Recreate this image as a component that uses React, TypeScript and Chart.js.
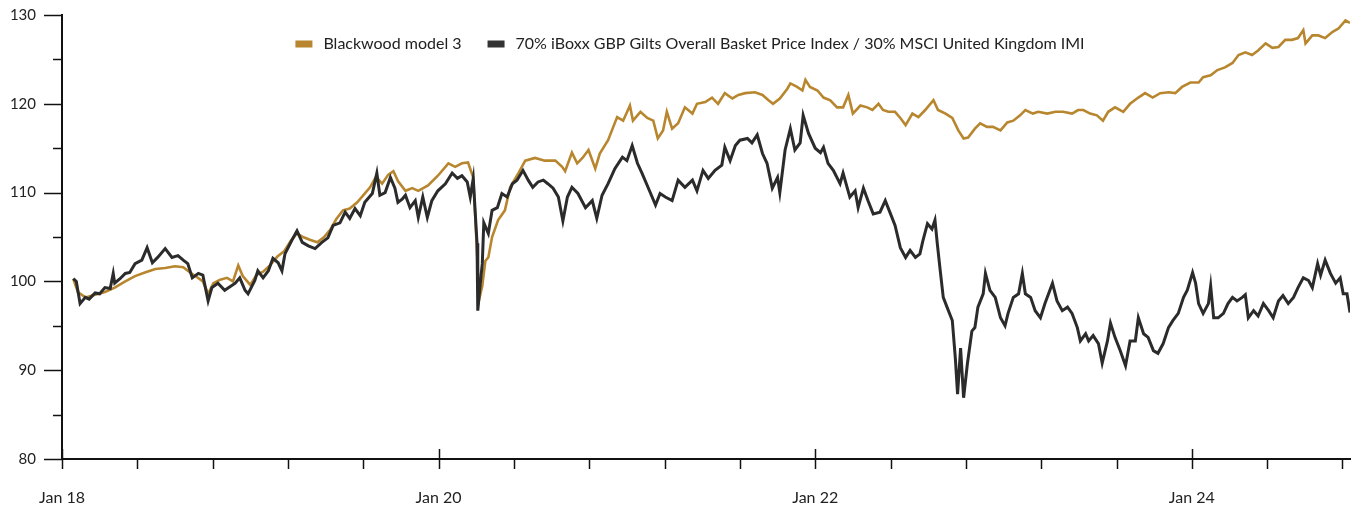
import React, { useEffect, useRef } from 'react';
import { Chart, registerables } from 'chart.js';

Chart.register(...registerables);

// ---- Data ----
const seriesNames = [
  'Blackwood model 3',
  '70% iBoxx GBP Gilts Overall Basket Price Index / 30% MSCI United Kingdom IMI',
];

// x axis: trading-day index from Jan 2018
const xTickValues = [0, 100, 200, 300, 400, 500, 600, 700, 800, 900, 1000, 1100, 1200, 1300, 1400, 1500, 1600, 1700];
const xTickLabels: Record<number, string> = { 0: 'Jan 18', 500: 'Jan 20', 1000: 'Jan 22', 1500: 'Jan 24' };
const yTickValues = [80, 85, 90, 95, 100, 105, 110, 115, 120, 125, 130];
const yTickLabels = [80, 90, 100, 110, 120, 130];

const blackwoodDays = [15, 21, 31, 44, 57, 70, 84, 97, 110, 124, 137, 150, 161, 170, 179, 187, 194, 201, 210, 219, 227, 234, 240, 250, 258, 267, 276, 286, 295, 304, 312, 320, 329, 339, 348, 356, 364, 373, 382, 392, 401, 409, 417, 425, 433, 440, 446, 456, 465, 473, 486, 499, 513, 522, 531, 539, 546, 550, 554, 558, 562, 566, 571, 579, 588, 595, 606, 615, 628, 641, 655, 664, 668, 677, 684, 691, 699, 708, 714, 725, 737, 745, 754, 758, 768, 777, 785, 791, 798, 803, 810, 818, 827, 837, 843, 854, 863, 871, 880, 890, 898, 907, 920, 930, 938, 944, 953, 963, 967, 976, 983, 987, 993, 1003, 1011, 1020, 1029, 1037, 1044, 1050, 1060, 1069, 1076, 1084, 1090, 1097, 1106, 1113, 1120, 1129, 1137, 1146, 1157, 1163, 1173, 1182, 1190, 1197, 1203, 1212, 1219, 1228, 1236, 1246, 1255, 1263, 1272, 1279, 1289, 1296, 1308, 1319, 1329, 1341, 1349, 1356, 1365, 1374, 1382, 1389, 1398, 1409, 1418, 1429, 1438, 1448, 1458, 1469, 1478, 1487, 1498, 1509, 1515, 1525, 1534, 1544, 1554, 1562, 1571, 1580, 1588, 1598, 1607, 1615, 1624, 1633, 1641, 1648, 1651, 1660, 1668, 1677, 1687, 1695, 1704, 1710];
const blackwoodValues = [100.3, 98.8, 98.2, 98.5, 98.8, 99.3, 100.0, 100.6, 101.0, 101.4, 101.5, 101.7, 101.6, 101.0, 100.5, 100.0, 98.6, 99.8, 100.2, 100.4, 100.0, 101.8, 100.6, 99.6, 100.7, 101.1, 101.8, 102.8, 103.4, 104.6, 105.4, 105.0, 104.7, 104.4, 105.0, 105.8, 107.0, 108.0, 108.2, 108.9, 109.8, 110.6, 111.8, 111.0, 112.0, 112.4, 111.3, 110.2, 110.5, 110.2, 110.8, 111.9, 113.3, 112.9, 113.3, 113.4, 111.7, 105.0, 98.0, 99.5, 102.3, 102.7, 105.0, 106.9, 108.0, 110.6, 112.2, 113.6, 113.9, 113.6, 113.6, 112.9, 112.4, 114.5, 113.3, 113.9, 114.8, 112.7, 114.4, 115.9, 118.5, 118.1, 119.8, 118.1, 119.1, 118.4, 118.1, 116.1, 117.0, 119.1, 117.2, 117.8, 119.6, 118.9, 120.0, 120.2, 120.7, 120.0, 121.2, 120.6, 121.0, 121.2, 121.3, 121.0, 120.4, 120.0, 120.6, 121.7, 122.3, 121.9, 121.5, 122.7, 121.9, 121.5, 120.7, 120.4, 119.6, 119.6, 121.0, 118.9, 119.8, 119.6, 119.3, 120.0, 119.3, 119.1, 119.1, 118.4, 117.6, 118.9, 118.5, 119.3, 120.4, 119.3, 118.9, 118.4, 117.0, 116.1, 116.2, 117.2, 117.8, 117.4, 117.4, 117.0, 117.9, 118.1, 118.7, 119.3, 118.9, 119.1, 118.9, 119.1, 119.1, 118.9, 119.3, 119.3, 118.9, 118.7, 118.1, 119.1, 119.6, 119.1, 120.0, 120.7, 121.2, 120.7, 121.2, 121.3, 121.2, 121.9, 122.4, 122.4, 123.0, 123.2, 123.8, 124.1, 124.6, 125.5, 125.8, 125.5, 126.0, 126.8, 126.3, 126.4, 127.2, 127.2, 127.4, 128.3, 126.8, 127.7, 127.7, 127.4, 128.1, 128.5, 129.4, 129.1];

const benchmarkDays = [15, 19, 24, 31, 36, 44, 50, 57, 64, 68, 70, 77, 84, 90, 97, 106, 113, 120, 127, 137, 146, 154, 161, 167, 173, 181, 187, 194, 199, 207, 216, 230, 236, 243, 247, 256, 260, 267, 274, 280, 287, 292, 296, 305, 312, 319, 327, 336, 345, 353, 360, 369, 376, 382, 389, 396, 402, 412, 418, 422, 429, 436, 442, 446, 452, 456, 462, 469, 473, 479, 485, 491, 499, 509, 518, 525, 531, 538, 542, 546, 551, 552, 555, 558, 560, 566, 571, 578, 584, 591, 598, 604, 612, 619, 625, 632, 639, 645, 652, 659, 665, 671, 677, 685, 695, 704, 710, 717, 725, 734, 744, 750, 757, 764, 770, 778, 788, 794, 801, 810, 818, 827, 837, 843, 851, 858, 867, 876, 880, 887, 894, 900, 910, 916, 923, 930, 936, 943, 950, 953, 960, 967, 973, 980, 984, 991, 1000, 1007, 1011, 1017, 1024, 1033, 1037, 1046, 1053, 1057, 1064, 1070, 1077, 1086, 1093, 1100, 1106, 1113, 1120, 1126, 1133, 1139, 1143, 1149, 1155, 1159, 1162, 1166, 1170, 1175, 1182, 1186, 1189, 1193, 1197, 1202, 1208, 1212, 1216, 1223, 1226, 1232, 1239, 1246, 1252, 1256, 1263, 1270, 1275, 1279, 1286, 1292, 1299, 1305, 1315, 1321, 1328, 1335, 1341, 1348, 1352, 1359, 1363, 1369, 1376, 1381, 1388, 1392, 1398, 1405, 1412, 1418, 1425, 1429, 1436, 1442, 1449, 1455, 1462, 1469, 1475, 1482, 1489, 1494, 1501, 1505, 1509, 1515, 1522, 1525, 1529, 1535, 1542, 1548, 1554, 1560, 1567, 1571, 1575, 1582, 1588, 1595, 1602, 1608, 1615, 1621, 1628, 1635, 1641, 1648, 1655, 1660, 1667, 1671, 1677, 1684, 1691, 1697, 1701, 1706, 1710];
const benchmarkValues = [100.3, 100.0, 97.5, 98.2, 98.0, 98.7, 98.6, 99.3, 99.2, 100.9, 99.8, 100.3, 100.9, 101.0, 102.0, 102.4, 103.8, 102.1, 102.7, 103.7, 102.7, 102.9, 102.4, 102.0, 100.4, 100.9, 100.7, 97.8, 99.3, 99.8, 99.0, 99.8, 100.4, 99.0, 98.6, 100.1, 101.2, 100.4, 101.2, 102.6, 102.1, 101.2, 103.1, 104.6, 105.7, 104.4, 104.0, 103.7, 104.4, 104.9, 106.3, 106.6, 107.8, 107.1, 108.2, 107.4, 108.9, 109.9, 112.2, 109.7, 110.0, 111.7, 110.5, 108.9, 109.3, 109.7, 108.3, 109.1, 107.2, 109.5, 107.2, 109.1, 110.2, 111.0, 112.2, 111.6, 111.9, 111.2, 109.5, 111.6, 104.3, 96.7, 99.5, 102.0, 106.6, 105.4, 108.0, 108.3, 109.9, 109.5, 111.0, 111.4, 112.5, 111.4, 110.6, 111.2, 111.4, 111.0, 110.5, 109.5, 106.8, 109.5, 110.6, 109.9, 108.3, 109.1, 107.1, 109.7, 111.0, 112.7, 114.0, 113.6, 115.3, 113.3, 112.2, 110.6, 108.6, 109.9, 109.5, 109.1, 111.4, 110.6, 111.4, 110.2, 112.5, 111.6, 112.5, 113.1, 115.1, 113.6, 115.3, 115.9, 116.1, 115.6, 116.5, 114.4, 113.3, 110.5, 111.7, 110.0, 114.8, 117.2, 114.8, 115.6, 118.7, 116.7, 115.0, 114.5, 115.1, 113.3, 112.5, 111.0, 112.2, 109.5, 110.2, 108.3, 110.5, 109.1, 107.6, 107.8, 109.1, 107.6, 106.3, 103.8, 102.7, 103.5, 102.7, 103.1, 104.6, 106.5, 105.9, 106.9, 104.3, 101.2, 98.2, 97.1, 95.6, 91.4, 87.3, 92.5, 86.9, 90.7, 94.4, 94.8, 97.1, 98.6, 100.9, 99.0, 98.2, 95.9, 95.0, 96.4, 98.2, 98.6, 100.9, 98.6, 98.2, 96.7, 95.9, 97.5, 99.8, 97.8, 96.7, 97.1, 96.4, 94.8, 93.3, 94.1, 93.3, 93.9, 93.0, 90.8, 93.3, 95.3, 93.7, 92.2, 90.5, 93.3, 93.3, 95.9, 94.1, 93.7, 92.2, 91.9, 93.0, 94.8, 95.6, 96.4, 98.2, 99.0, 101.0, 99.8, 97.5, 96.4, 97.5, 99.5, 95.9, 95.9, 96.4, 97.5, 98.2, 97.8, 98.2, 98.5, 95.9, 96.7, 96.1, 97.5, 96.7, 95.9, 97.8, 98.4, 97.5, 98.2, 99.3, 100.4, 100.1, 99.3, 102.0, 100.7, 102.4, 100.9, 99.8, 100.4, 98.6, 98.6, 96.5];

const GOLD = '#B8862E';
const DARK = '#2B2B2B';
const FONT = 'Lato';

const axisTicksPlugin = {
  id: 'axisTicks',
  afterDraw(chart: any) {
    const { ctx, chartArea, scales } = chart;
    ctx.save();
    ctx.strokeStyle = '#111';
    ctx.lineWidth = 1.5;
    const xs = scales.x;
    xs.ticks.forEach((t: any) => {
      const px = Math.round(xs.getPixelForValue(t.value)) + 0.5;
      const major = xTickLabels[t.value] !== undefined;
      ctx.beginPath();
      ctx.moveTo(px, chartArea.bottom + 10);
      ctx.lineTo(px, chartArea.bottom - (major ? 10 : 0));
      ctx.stroke();
    });
    const ys = scales.y;
    ys.ticks.forEach((t: any) => {
      const py = Math.round(ys.getPixelForValue(t.value)) + 0.5;
      const len = yTickLabels.includes(t.value) ? 18 : 9;
      ctx.beginPath();
      ctx.moveTo(chartArea.left - len, py);
      ctx.lineTo(chartArea.left, py);
      ctx.stroke();
    });
    ctx.restore();
  },
};

const legendPlugin = {
  id: 'topLegend',
  afterDraw(chart: any) {
    const { ctx } = chart;
    const items = [...chart.data.datasets]
      .sort((a: any, b: any) => a.legendIndex - b.legendIndex)
      .map((d: any) => ({ label: d.label, color: d.legendColor }));
    ctx.save();
    ctx.font = `16px ${FONT}`;
    const markerW = 17;
    const markerH = 7;
    const gapText = 11;
    const gapItem = 26;
    const widths = items.map((it: any) => markerW + gapText + ctx.measureText(it.label).width);
    const total = widths.reduce((a: number, b: number) => a + b, 0) + gapItem * (items.length - 1);
    let x = 690 - total / 2;
    const y = 44;
    items.forEach((it: any, i: number) => {
      ctx.fillStyle = it.color;
      ctx.fillRect(x, y - markerH / 2, markerW, markerH);
      ctx.fillStyle = '#222';
      ctx.textBaseline = 'middle';
      ctx.textAlign = 'left';
      ctx.fillText(it.label, x + markerW + gapText, y);
      x += widths[i] + gapItem;
    });
    ctx.restore();
  },
};

export default function App() {
  const canvasRef = useRef<HTMLCanvasElement | null>(null);

  useEffect(() => {
    document.body.style.margin = '0';
    const canvas = canvasRef.current;
    if (!canvas) return;
    const chart = new Chart(canvas, {
      type: 'line',
      data: {
        datasets: [
          {
            label: seriesNames[0],
            data: blackwoodDays.map((d, i) => ({ x: d, y: blackwoodValues[i] })),
            borderColor: GOLD,
            borderWidth: 2.6,
            pointRadius: 0,
            tension: 0,
            order: 2,
            legendIndex: 0,
            legendColor: GOLD,
          } as any,
          {
            label: seriesNames[1],
            data: benchmarkDays.map((d, i) => ({ x: d, y: benchmarkValues[i] })),
            borderColor: DARK,
            borderWidth: 3,
            pointRadius: 0,
            tension: 0,
            order: 1,
            legendIndex: 1,
            legendColor: '#333',
          } as any,
        ],
      },
      options: {
        animation: false,
        responsive: true,
        maintainAspectRatio: false,
        events: [],
        layout: { padding: { top: 15, right: 8, left: 0, bottom: 0 } },
        plugins: {
          legend: { display: false },
          tooltip: { enabled: false },
        },
        scales: {
          x: {
            type: 'linear',
            min: 0,
            max: 1710,
            afterBuildTicks: (s: any) => {
              s.ticks = xTickValues.map((v) => ({ value: v }));
            },
            afterFit: (s: any) => {
              s.height = 51;
              s.paddingLeft = 0;
              s.paddingRight = 0;
            },
            grid: { display: true, drawOnChartArea: false, drawTicks: false },
            border: { display: true, color: '#111', width: 2 },
            ticks: {
              autoSkip: false,
              maxRotation: 0,
              minRotation: 0,
              padding: 29,
              color: '#222',
              font: { family: FONT, size: 16 },
              callback: (v: any) => xTickLabels[v as number] ?? '',
            },
          },
          y: {
            min: 80,
            max: 130,
            afterBuildTicks: (s: any) => {
              s.ticks = yTickValues.map((v) => ({ value: v }));
            },
            afterFit: (s: any) => {
              s.width = 62;
              s.paddingTop = 0;
              s.paddingBottom = 0;
            },
            grid: { display: true, drawOnChartArea: false, drawTicks: false },
            border: { display: true, color: '#111', width: 2 },
            ticks: {
              autoSkip: false,
              padding: 26,
              color: '#222',
              font: { family: FONT, size: 15 },
              callback: (v: any) => (yTickLabels.includes(v as number) ? String(v) : ''),
            },
          },
        },
      },
      plugins: [axisTicksPlugin, legendPlugin],
    });
    return () => chart.destroy();
  }, []);

  return (
    <div style={{ width: 1358, height: 510, position: 'relative' }}>
      <canvas ref={canvasRef} />
    </div>
  );
}
